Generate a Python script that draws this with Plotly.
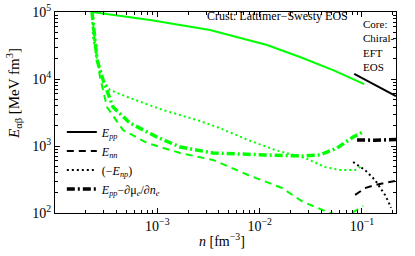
import plotly.graph_objects as go
import numpy as np

GREEN = "#00ff00"
BLACK = "#000000"
SERIF = "Liberation Serif, Times New Roman, serif"

# ---- Crust (Lattimer-Swesty) curves, green ----
crust_pp_n = [2.30e-4, 8.5e-4, 3.27e-3, 0.0118, 0.0248, 0.0522, 0.105]
crust_pp_E = [1.0e5, 7.6e4, 5.38e4, 3.21e4, 2.13e4, 1.36e4, 8.4e3]

crust_nn_n = [2.30e-4, 2.46e-4, 2.75e-4, 3.22e-4, 4.62e-4, 7.93e-4, 1.67e-3, 3.51e-3,
              7.71e-3, 0.01656, 0.02656, 0.0389, 0.0488, 0.0611, 0.0765, 0.1026]
crust_nn_E = [1.0e5, 3.44e4, 1.07e4, 3.82e3, 1.73e3, 1.11e3, 787, 618,
              369, 236, 146, 115, 100, 90, 97, 127]

crust_np_n = [2.30e-4, 2.35e-4, 2.58e-4, 2.88e-4, 3.45e-4, 5.41e-4, 1.14e-3, 2.44e-3,
              3.84e-3, 7.71e-3, 0.01417, 0.0278, 0.0436, 0.0611, 0.0857, 0.1003]
crust_np_E = [1.0e5, 4.24e4, 1.92e4, 9.66e3, 6.85e3, 5.20e3, 3.44e3, 2.44e3,
              1.92e3, 1.23e3, 872, 662, 486, 438, 438, 503]

crust_mu_n = [2.30e-4, 2.58e-4, 2.95e-4, 3.69e-4, 5.41e-4, 9.93e-4, 1.67e-3, 3.51e-3,
              0.01129, 0.02656, 0.0389, 0.0571, 0.0819, 0.1026]
crust_mu_E = [1.0e5, 1.92e4, 9.66e3, 3.82e3, 2.20e3, 1.36e3, 966, 787,
              735, 710, 735, 933, 1.36e3, 1.62e3]

# ---- Core (chiral EFT) curves, black ----
core_pp_n = [0.084, 0.134, 0.215]
core_pp_E = [1.19e4, 8.1e3, 5.57e3]

core_nn_n = [0.0857, 0.107, 0.134, 0.21]
core_nn_E = [186, 235, 262, 301]

core_np_n = [0.0819, 0.107, 0.134, 0.150, 0.168, 0.182, 0.192]
core_np_E = [577, 438, 311, 245, 186, 145, 119]

core_mu_n = [0.0895, 0.134, 0.215]
core_mu_E = [1.23e3, 1.22e3, 1.25e3]

legend_names = ["<i>E</i><sub><i>pp</i></sub>",
                "<i>E</i><sub><i>nn</i></sub>",
                "(−<i>E</i><sub><i>np</i></sub>)",
                "<i>E</i><sub><i>pp</i></sub>−∂μ<sub><i>e</i></sub>/∂<i>n</i><sub><i>e</i></sub>"]

x_tick_vals = [1e-3, 1e-2, 1e-1]
x_tick_text = ["10<sup>−3</sup>", "10<sup>−2</sup>", "10<sup>−1</sup>"]
y_tick_vals = [1e2, 1e3, 1e4, 1e5]
y_tick_text = ["10<sup>2</sup>", "10<sup>3</sup>", "10<sup>4</sup>", "10<sup>5</sup>"]

DASH = "7px,5px"
DOT = "2px,3px"
DASHDOT = "8px,3px,2px,3px"

fig = go.Figure()

def add(n, E, color, dash, width):
    fig.add_trace(go.Scatter(x=n, y=E, mode="lines", showlegend=False,
                             line=dict(color=color, dash=dash, width=width)))

add(crust_pp_n, crust_pp_E, GREEN, "solid", 2)
add(crust_nn_n, crust_nn_E, GREEN, DASH, 2)
add(crust_np_n, crust_np_E, GREEN, DOT, 2)
add(crust_mu_n, crust_mu_E, GREEN, DASHDOT, 3.5)
add(core_pp_n, core_pp_E, BLACK, "solid", 2)
add(core_nn_n, core_nn_E, BLACK, DASH, 2)
add(core_np_n, core_np_E, BLACK, DOT, 2)
add(core_mu_n, core_mu_E, BLACK, DASHDOT, 3.5)

# legend entries (black samples)
for name, dash, w in zip(legend_names, ["solid", DASH, DOT, DASHDOT], [2, 2, 2, 3.5]):
    fig.add_trace(go.Scatter(x=[None], y=[None], mode="lines", name=name,
                             line=dict(color=BLACK, dash=dash, width=w)))

minor_x = [m * 10.0 ** k for k in range(-4, 0) for m in range(2, 10)]
minor_y = [m * 10.0 ** k for k in range(2, 5) for m in range(2, 10)]

axis_common = dict(type="log", showline=True, linecolor="black", linewidth=1,
                   mirror="ticks", ticks="inside", ticklen=5, tickcolor="black",
                   showgrid=False, zeroline=False, automargin=False,
                   tickfont=dict(family=SERIF, size=14, color="black"))

fig.update_layout(
    width=415, height=256,
    margin=dict(l=55, r=19, t=12, b=43, autoexpand=False),
    paper_bgcolor="white", plot_bgcolor="white",
    font=dict(family=SERIF, color="black"),
    xaxis=dict(range=[np.log10(1.0e-4), np.log10(0.215)],
               tickmode="array", tickvals=x_tick_vals, ticktext=x_tick_text,
               minor=dict(tickmode="array", tickvals=minor_x, ticks="inside",
                          ticklen=3, tickcolor="black"),
               **axis_common),
    yaxis=dict(range=[2, 5],
               tickmode="array", tickvals=y_tick_vals, ticktext=y_tick_text,
               minor=dict(tickmode="array", tickvals=minor_y, ticks="inside",
                          ticklen=3, tickcolor="black"),
               **axis_common),
    legend=dict(x=0.02, y=0.475, xanchor="left", yanchor="top",
                bgcolor="rgba(0,0,0,0)", borderwidth=0,
                font=dict(family=SERIF, size=12, color="black"),
                tracegroupgap=0, itemwidth=30),
    showlegend=True,
)

fig.add_annotation(text="Crust: Lattimer−Swesty EOS", xref="paper", yref="paper",
                   x=(205 - 55) / 341, y=(213 - 16) / 201, xanchor="left", yanchor="middle",
                   showarrow=False, font=dict(family=SERIF, size=12, color="black"))
fig.add_annotation(text="Core:<br>Chiral-<br>EFT<br>EOS", xref="paper", yref="paper",
                   x=(361 - 55) / 341, y=(213 - 16) / 201, xanchor="left", yanchor="top",
                   align="left", showarrow=False,
                   font=dict(family=SERIF, size=11, color="black"))

fig.add_annotation(text="<i>E</i><sub>αβ</sub> [MeV fm<sup>3</sup>]", xref="paper", yref="paper",
                   x=(14 - 55) / 341, y=(213 - 94) / 201, xanchor="center", yanchor="middle",
                   textangle=-90, showarrow=False, font=dict(family=SERIF, size=15, color="black"))
fig.add_annotation(text="<i>n</i> [fm<sup>−3</sup>]", xref="paper", yref="paper",
                   x=(222 - 55) / 341, y=(213 - 240) / 201, xanchor="center", yanchor="middle",
                   showarrow=False, font=dict(family=SERIF, size=14, color="black"))

fig.write_html("out.html", config={"displayModeBar": False},
               post_script="document.body.style.margin='0';")
